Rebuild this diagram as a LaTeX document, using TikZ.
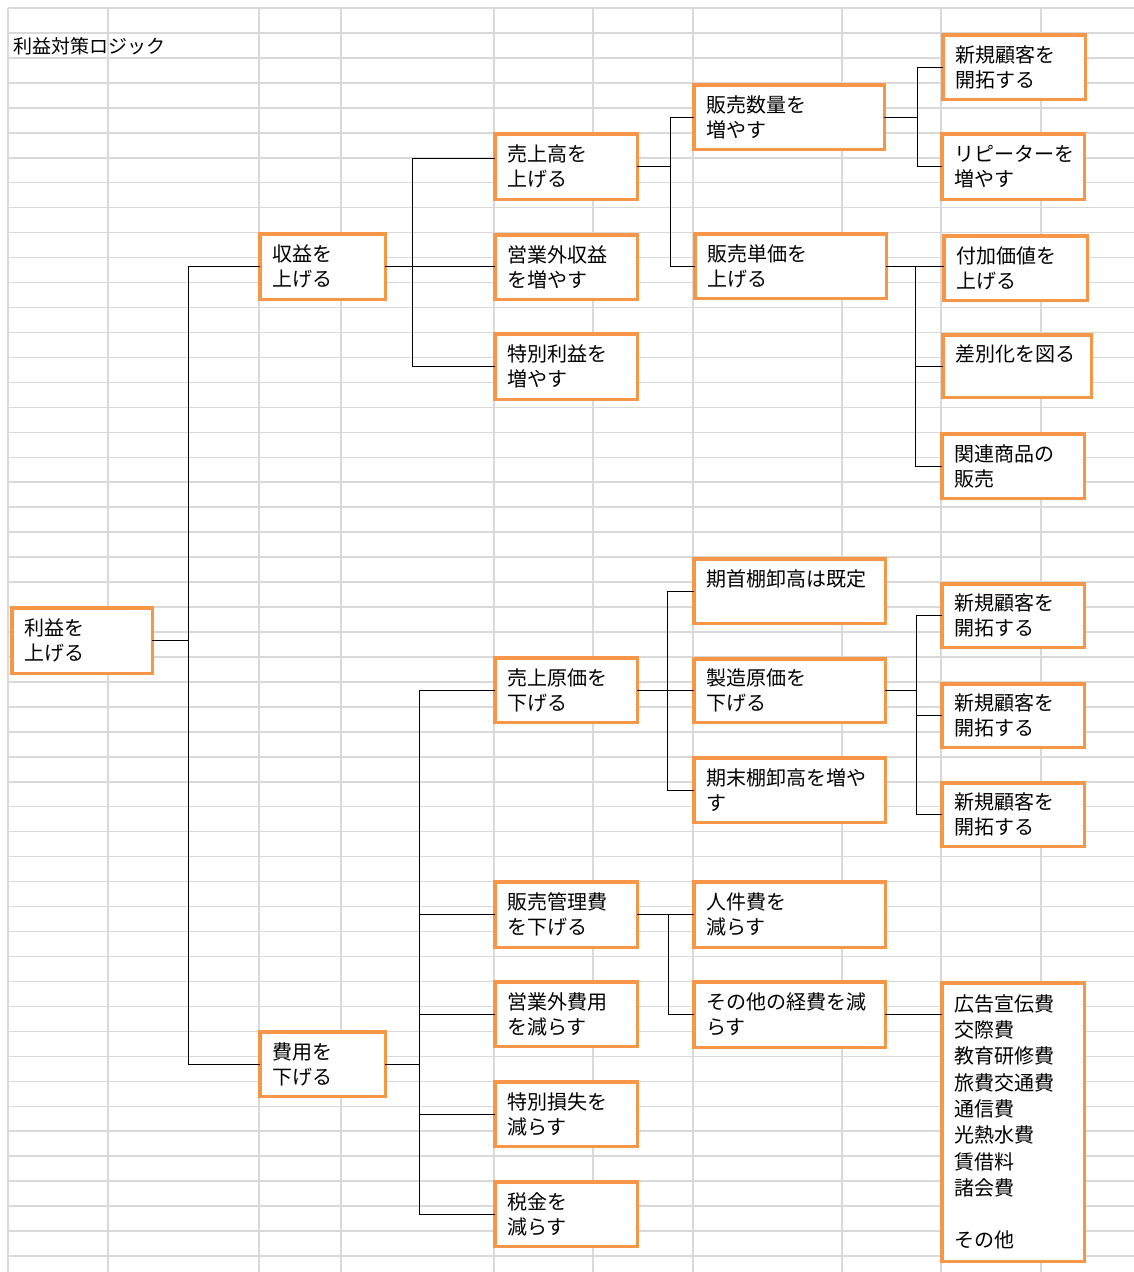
\documentclass[tikz,border=0pt]{standalone}
\usepackage{fontspec}
\setmainfont{Noto Sans CJK JP}
\definecolor{boxorange}{RGB}{247,150,70}
\definecolor{gridgray}{RGB}{217,217,217}
\newcommand\boxfont{\fontsize{20}{25}\selectfont}
\newcommand\listfont{\fontsize{20}{26.3}\selectfont}
\newcommand\obox[7][]{%
  \pgfmathsetmacro\oboxW{#5-#3-3.5}%
  \pgfmathsetmacro\oboxH{#6-#4-3.5}%
  \pgfmathsetmacro\oboxT{#5-#3-28}%
  \pgfmathsetmacro\oboxX{(#3+#5)/2}%
  \pgfmathsetmacro\oboxY{(#4+#6)/2}%
  \node[box,#1,minimum width=\oboxW pt,minimum height=\oboxH pt,text width=\oboxT pt] (#2) at (\oboxX,\oboxY) {#7};}
\tikzset{
  box/.style={draw=boxorange, line width=3.5pt, fill=white, inner xsep=12.25pt, inner ysep=0pt,
    outer sep=0pt, align=left, font=\boxfont, text=black},
  grid/.style={draw=gridgray, line width=1.5pt},
  conn/.style={draw=black, line width=1pt},
}
\begin{document}
\begin{tikzpicture}[x=1pt,y=-1pt]
\useasboundingbox (0,0) rectangle (1134,1272);
\fill[white] (0,0) rectangle (1134,1272);
% spreadsheet grid
\foreach \gx in {8,108,259,341,494,593,693,842,941,1041}
  \draw[grid] (\gx,8) -- (\gx,1272);
\foreach \gk in {0,...,50}
  \draw[grid] (8,{8+24.96*\gk}) -- (1134,{8+24.96*\gk});
% title
\node[anchor=west, inner sep=0pt, font=\fontsize{19}{23}\selectfont] (title) at (13,46) {利益対策ロジック};
% boxes
\obox{root}{10}{606}{154}{675}{利益を\\上げる}
\obox{shueki}{258}{232}{387}{301}{収益を\\上げる}
\obox{hiyou}{258}{1030}{387}{1098}{費用を\\下げる}
\obox{uriage}{493}{132}{639}{201}{売上高を\\上げる}
\obox{eigyogai}{493}{233}{639}{301}{営業外収益\\を増やす}
\obox{tokubetsu}{493}{332}{639}{401}{特別利益を\\増やす}
\obox{suuryou}{692}{83}{886}{151}{販売数量を\\増やす}
\obox{tanka}{693}{232}{888}{300}{販売単価を\\上げる}
\obox{shinki1}{941}{33}{1087}{101}{新規顧客を\\開拓する}
\obox{repeater}{940}{132}{1086}{201}{リピーターを\\増やす}
\obox{fuka}{942}{234}{1089}{302}{付加価値を\\上げる}
\obox{sabetsu}{941}{333}{1093}{399}{差別化を図る\\\mbox{}}
\obox{kanren}{940}{432}{1086}{500}{関連商品の\\販売}
\obox{genka}{493}{656}{639}{724}{売上原価を\\下げる}
\obox{kishu}{692}{557}{887}{625}{期首棚卸高は既定\\\mbox{}}
\obox{seizou}{692}{657}{887}{724}{製造原価を\\下げる}
\obox{kimatsu}{692}{756}{887}{824}{期末棚卸高を増や\\す}
\obox{shinki2}{940}{582}{1086}{649}{新規顧客を\\開拓する}
\obox{shinki3}{940}{682}{1086}{749}{新規顧客を\\開拓する}
\obox{shinki4}{940}{781}{1086}{848}{新規顧客を\\開拓する}
\obox{hankan}{493}{880}{639}{949}{販売管理費\\を下げる}
\obox{eigyogaihi}{493}{980}{639}{1048}{営業外費用\\を減らす}
\obox{tokuson}{493}{1080}{639}{1148}{特別損失を\\減らす}
\obox{zeikin}{493}{1180}{639}{1248}{税金を\\減らす}
\obox{jinken}{692}{880}{887}{949}{人件費を\\減らす}
\obox{sonota}{692}{980}{887}{1049}{その他の経費を減\\らす}
\obox[font=\listfont]{koukoku}{940}{981}{1086}{1263}{広告宣伝費\\交際費\\教育研修費\\旅費交通費\\通信費\\光熱水費\\賃借料\\諸会費\\\mbox{}\\その他}
% bracket spines
\coordinate (sp1) at (188,0);
\coordinate (sp2) at (412,0);
\coordinate (sp3) at (670,0);
\coordinate (sp4) at (917,0);
\coordinate (sp5) at (915,0);
\coordinate (sp6) at (419,0);
\coordinate (sp7) at (667,0);
\coordinate (sp8) at (916,0);
\coordinate (sp9) at (668,0);
% connectors
\draw[conn] (root.east) -- (root.east -| sp1);
\draw[conn] (shueki.west) -- (shueki.west -| sp1) -- (hiyou.west -| sp1) -- (hiyou.west);
\draw[conn] (shueki.east) -- (shueki.east -| eigyogai.west);
\coordinate (uriageIn) at ([yshift=8pt]uriage.west);
\draw[conn] (uriageIn) -- (uriageIn -| sp2) -- (tokubetsu.west -| sp2) -- (tokubetsu.west);
\draw[conn] (uriage.east) -- (uriage.east -| sp3);
\draw[conn] (suuryou.west) -- (suuryou.west -| sp3) -- (tanka.west -| sp3) -- (tanka.west);
\draw[conn] (suuryou.east) -- (suuryou.east -| sp4);
\draw[conn] (shinki1.west) -- (shinki1.west -| sp4) -- (repeater.west -| sp4) -- (repeater.west);
\draw[conn] (tanka.east) -- (tanka.east -| fuka.west);
\draw[conn] (tanka.east -| sp5) -- (kanren.west -| sp5) -- (kanren.west);
\draw[conn] (sabetsu.west -| sp5) -- (sabetsu.west);
\draw[conn] (hiyou.east) -- (hiyou.east -| sp6);
\draw[conn] (genka.west) -- (genka.west -| sp6) -- (zeikin.west -| sp6) -- (zeikin.west);
\foreach \nm in {hankan,eigyogaihi,tokuson}
  \draw[conn] (\nm.west -| sp6) -- (\nm.west);
\draw[conn] (genka.east) -- (genka.east -| seizou.west);
\draw[conn] (kishu.west) -- (kishu.west -| sp7) -- (kimatsu.west -| sp7) -- (kimatsu.west);
\draw[conn] (seizou.east) -- (seizou.east -| sp8);
\draw[conn] (shinki2.west) -- (shinki2.west -| sp8) -- (shinki4.west -| sp8) -- (shinki4.west);
\draw[conn] (shinki3.west -| sp8) -- (shinki3.west);
\draw[conn] (hankan.east) -- (hankan.east -| jinken.west);
\draw[conn] (hankan.east -| sp9) -- (sonota.west -| sp9) -- (sonota.west);
\draw[conn] (sonota.east) -- (sonota.east -| koukoku.west);
\end{tikzpicture}
\end{document}
